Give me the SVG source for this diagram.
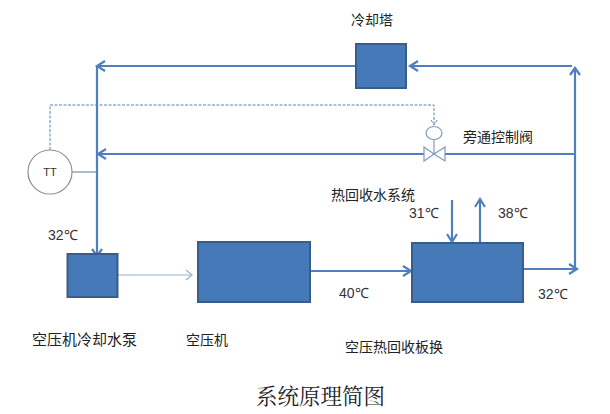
<svg xmlns="http://www.w3.org/2000/svg" width="610" height="414" viewBox="0 0 610 414">
<style>
.box{fill:#4679b8;stroke:#385d8a;stroke-width:2}
.flow{fill:none;stroke:#4f7fbd;stroke-width:2.2}
.thin{fill:none;stroke:#6f8fb5;stroke-width:1.2}
.dash{fill:none;stroke:#5f84ad;stroke-width:1;stroke-dasharray:3 1.5}
.head{fill:none;stroke:#4f7fbd;stroke-width:2.2}
.valve{fill:#fff;stroke:#7f9bb8;stroke-width:1.2}
text{font-family:"Noto Sans CJK SC","Liberation Sans",sans-serif;fill:#222;font-size:14px}
.num{font-family:"Liberation Sans",sans-serif;font-size:14px;fill:#333}
</style>
<rect width="610" height="414" fill="#fff"/>
<g id="connectors">
<path class="flow" d="M356 66H97V256"/>
<path class="head" d="M105 61L97 66L105 71M92 249L97 256L102 249"/>
<path class="flow" d="M572 66H410"/>
<path class="head" d="M418 61L410 66L418 71"/>
<path class="flow" d="M575 267V68"/>
<path class="head" d="M570 75L575 68L580 75"/>
<path class="flow" d="M575 154H98"/>
<path class="head" d="M106 149L98 154L106 159"/>
<path class="flow" d="M311 271H410"/>
<path class="head" d="M403 266L411 271L403 276"/>
<path class="flow" d="M524 269H576"/>
<path class="head" d="M569 264L577 269L569 274"/>
<path class="flow" d="M452 200V242"/>
<path class="head" d="M447 234L452 242L457 234"/>
<path class="flow" d="M480 242V199"/>
<path class="head" d="M475 207L480 199L485 207"/>
<path d="M118 275H192" fill="none" stroke="#9ab3cc" stroke-width="1.2"/>
<path d="M186 270L192 275L186 280" fill="none" stroke="#9ab3cc" stroke-width="1.2"/>
<path class="thin" d="M72 172H97"/>
<path class="dash" d="M50 150V105H434V124"/>
<path class="dash" d="M431 120L434 125L437 120"/>
</g>
<g id="cooling-tower"><rect class="box" x="356" y="44" width="50" height="44"/><text x="351" y="25">冷却塔</text></g>
<g id="tt"><circle cx="50" cy="172" r="22" fill="#fff" stroke="#8a8f96" stroke-width="1.2"/><text class="num" x="50" y="176" text-anchor="middle" style="font-size:11px">TT</text></g>
<g id="pump"><rect class="box" x="67.500" y="254" width="50" height="43"/><text x="32" y="345" style="font-size:15px">空压机冷却水泵</text></g>
<g id="compressor"><rect class="box" x="198" y="242" width="112" height="60"/><text x="186" y="345">空压机</text></g>
<g id="heat-exchanger"><rect class="box" x="412" y="243" width="111" height="59"/><text x="345" y="352">空压热回收板换</text></g>
<g id="valve">
<ellipse class="valve" cx="434" cy="133" rx="8" ry="6.500"/>
<path class="valve" d="M434 139V154"/>
<path class="valve" d="M424 147L434 154L424 161ZM445 147L434 154L445 161Z"/>
<text x="463" y="142">旁通控制阀</text>
</g>
<g id="labels">
<text x="331" y="200">热回收水系统</text>
<text class="num" x="48" y="240">32℃</text>
<text class="num" x="409" y="218">31℃</text>
<text class="num" x="498" y="218">38℃</text>
<text class="num" x="339" y="298">40℃</text>
<text class="num" x="538" y="299">32℃</text>
<text x="256" y="404" style="font-family:'Noto Serif CJK SC','Noto Sans CJK SC',serif;font-size:21.500px">系统原理简图</text>
</g>
</svg>
